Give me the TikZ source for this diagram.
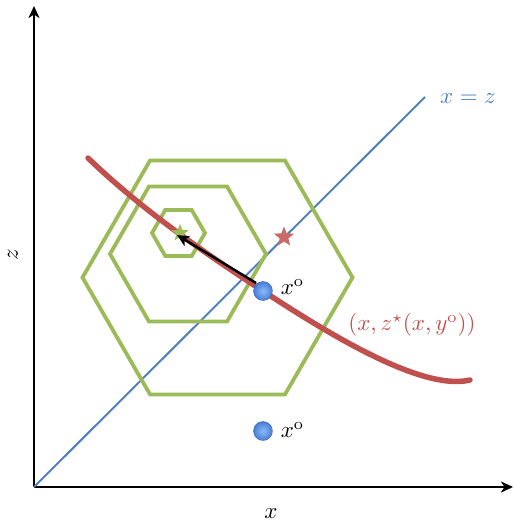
\documentclass[tikz,border=0pt]{standalone}
\usetikzlibrary{shapes.geometric,arrows.meta}
\definecolor{oblue}{RGB}{79,129,189}
\definecolor{ogreen}{RGB}{155,187,89}
\definecolor{ored}{RGB}{192,80,77}
\definecolor{dotin}{RGB}{140,185,245}
\definecolor{dotout}{RGB}{70,125,215}
\tikzset{
  axis/.style={line width=2.8pt,-{Stealth[length=12pt,width=11pt,inset=3.5pt]}},
  hexa/.style={draw=ogreen,line width=3.8pt,regular polygon,regular polygon sides=6,inner sep=0pt},
  starmark/.style={star,star points=5,star point ratio=2.3,inner sep=0pt,minimum size=#1},
  dot/.style={circle,inner sep=0pt,minimum size=19pt,inner color=dotin,outer color=dotout,draw=dotout!80!black,line width=0.4pt},
  lbl/.style={scale=2.3,inner sep=1pt},
}
\begin{document}
\begin{tikzpicture}[x=1pt,y=1pt]
\useasboundingbox (0,0) rectangle (514,-524);
% axes
\coordinate (O) at (34,-487);
\coordinate (ytop) at (34,-6);
\coordinate (xend) at (513,-487);
\draw[axis] (O) -- (ytop);
\draw[axis] (O) -- (xend);
\node[lbl,rotate=90,inner sep=0pt] (zl) at (13,-255) {$z$};
\node[lbl] (xl) at (271,-514) {$x$};
% diagonal
\coordinate (dend) at (425,-97);
\draw[oblue,line width=2pt] (O) -- (dend);
\node[lbl,text=oblue] (xz) at (468,-99) {$x=z$};
% hexagons
\node[hexa,minimum size=270pt] (h1) at (217.5,-277.5) {};
\node[hexa,minimum size=156pt] (h2) at (188,-254) {};
\node[hexa,minimum size=53pt] (h3) at (178.5,-233) {};
% red curve
\coordinate (c0) at (88,-158);
\coordinate (c1) at (263,-291);
\coordinate (c2) at (470,-380);
\draw[ored,line width=5.5pt,line cap=round] (c0) .. controls (140,-208) and (200,-250) .. (c1)
  .. controls (320,-328) and (420,-392) .. (c2);
\node[lbl,text=ored] (cl) at (412,-325) {$(x,z^{\star}(x,y^{\mathrm{o}}))$};
% stars
\node[starmark=18pt,fill=ogreen] (gs) at (180,-233) {};
\node[starmark=21pt,fill=ored!85] (rs) at (284,-237) {};
% dots
\node[dot] (d1) at (263,-291) {};
\node[dot] (d2) at (263,-431) {};
\node[lbl,anchor=west] (l1) at (278,-287) {$x^{\mathrm{o}}$};
\node[lbl,anchor=west] (l2) at (278,-430) {$x^{\mathrm{o}}$};
% arrow
\coordinate (atip) at (177,-235);
\draw[line width=2.5pt,-{Stealth[length=12pt,width=11pt,inset=3pt]}] (256,-283) -- (atip);
\end{tikzpicture}
\end{document}
